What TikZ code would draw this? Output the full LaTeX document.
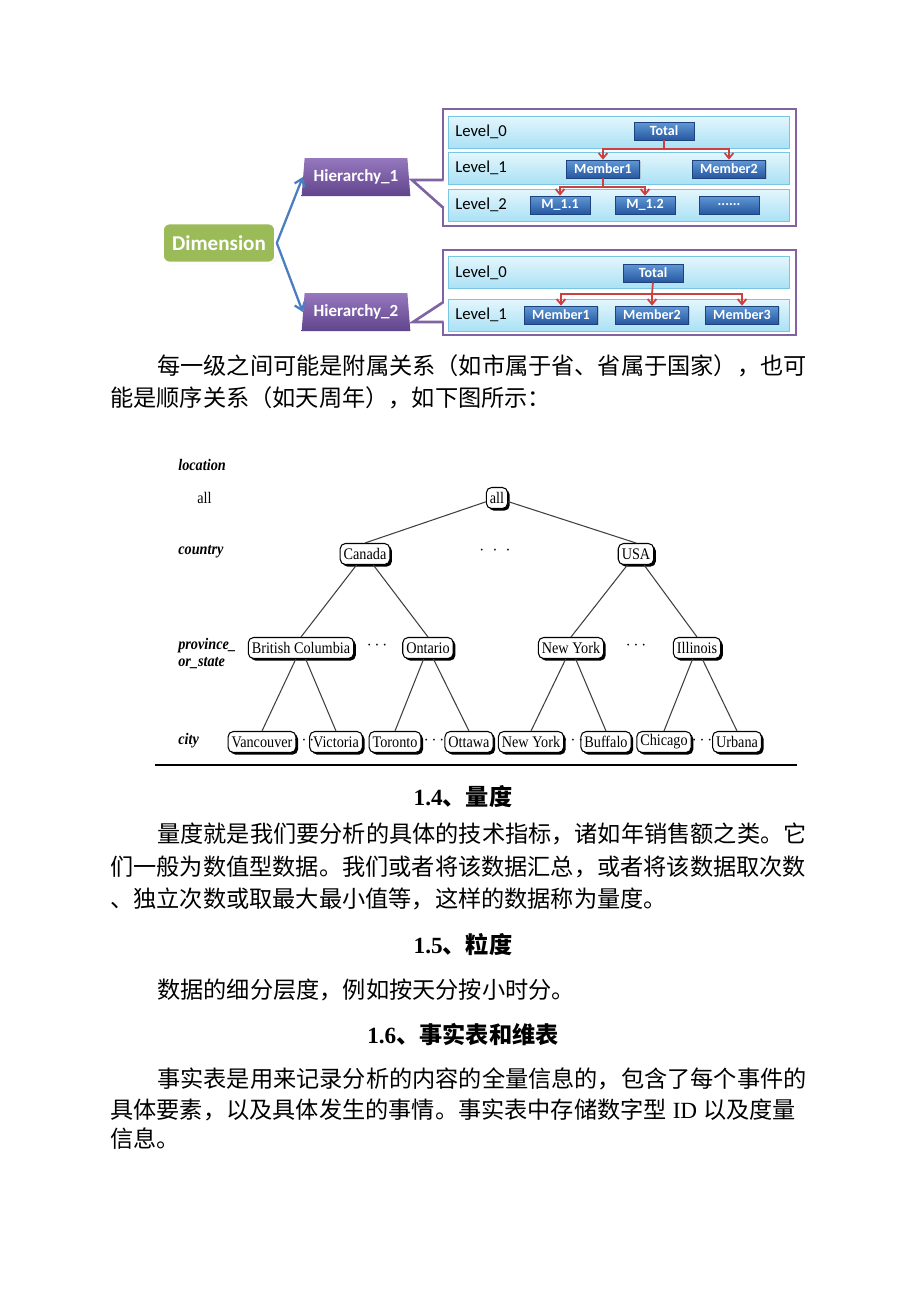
\documentclass[tikz,border=0pt]{standalone}
\usepackage{fontspec}
\setmainfont{Liberation Serif}
\newfontfamily\cjk{Noto Sans CJK SC}
\newfontfamily\cali{Carlito}
\newfontfamily\treefont[FakeStretch=0.88]{Liberation Serif}
\usetikzlibrary{shapes.geometric, arrows.meta, positioning, calc, shadows}
\definecolor{dimgreen}{RGB}{155,187,89}
\definecolor{hiertop}{RGB}{150,120,190}
\definecolor{hierbot}{RGB}{96,68,140}
\definecolor{calloutpurple}{RGB}{128,100,162}
\definecolor{rowtop}{RGB}{228,246,252}
\definecolor{rowbot}{RGB}{170,225,245}
\definecolor{rowedge}{RGB}{120,198,228}
\definecolor{membertop}{RGB}{96,152,214}
\definecolor{memberbot}{RGB}{38,88,160}
\definecolor{memberedge}{RGB}{30,66,126}
\definecolor{linkred}{RGB}{204,64,64}
\definecolor{linkblue}{RGB}{74,126,192}

\begin{document}
\begin{tikzpicture}[
    x=0.02cm, y=-0.02cm,
    dimbox/.style={draw=white, line width=1.5pt, fill=dimgreen, rounded corners=4pt, minimum width=2.26cm, minimum height=0.8cm, text=white, font=\cali\bfseries\fontsize{12}{14}\selectfont, drop shadow={shadow xshift=0.6pt, shadow yshift=-0.6pt, opacity=0.3}},
    hierbox/.style={trapezium, trapezium left angle=82, trapezium right angle=82, trapezium stretches=true, top color=hiertop, bottom color=hierbot, minimum width=2.18cm, minimum height=0.76cm, inner sep=1pt, text=white, font=\cali\bfseries\fontsize{9.7}{11}\selectfont},
    callout/.style={draw=calloutpurple, line width=1.5pt, fill=white, minimum width=7.06cm, inner sep=0pt},
    levelrow/.style={draw=rowedge, top color=rowtop, bottom color=rowbot, minimum width=6.82cm, minimum height=0.64cm, inner sep=0pt},
    levellabel/.style={anchor=west, inner sep=0pt, font=\cali\fontsize{9.5}{11}\selectfont},
    member/.style={draw=memberedge, top color=membertop, bottom color=memberbot, minimum width=1.2cm, minimum height=0.36cm, inner sep=1pt, text=white, font=\cali\bfseries\fontsize{8}{9}\selectfont, drop shadow={shadow xshift=0.8pt, shadow yshift=-0.8pt, opacity=0.3}},
    redlink/.style={linkred, line width=1pt, -{Straight Barb[length=3pt, width=5pt]}},
    bluelink/.style={linkblue, line width=1.3pt, -{Straight Barb[length=4pt, width=6pt]}},
    place/.style={draw, rounded corners=3pt, fill=white, line width=0.6pt, inner xsep=2pt, inner ysep=0pt, minimum height=0.42cm, font=\treefont\fontsize{9.2}{10}\selectfont, drop shadow={shadow xshift=1.2pt, shadow yshift=-1.2pt, fill=black, opacity=1}},
    treeedge/.style={black!75, line width=0.6pt},
    levelname/.style={anchor=west, inner sep=0pt, font=\treefont\bfseries\itshape\fontsize{9.2}{10}\selectfont},
    gap/.style={inner sep=0pt, font=\fontsize{10}{12}\selectfont},
    bodyline/.style={anchor=west, inner sep=0pt, font=\cjk\fontsize{13.2}{16}\selectfont},
    heading/.style={inner sep=0pt, font=\bfseries\fontsize{13.2}{16}\selectfont}
]
    \fill[white] (0,0) rectangle (920,1302);
    \useasboundingbox (0,0) rectangle (920,1302);

    % Dimension and hierarchies
    \node[dimbox] (dim) at (219,243) {Dimension};
    \node[hierbox] (hier1) at (356,177) {Hierarchy\_1};
    \node[hierbox] (hier2) at (356,312) {Hierarchy\_2};
    \draw[bluelink] (dim.east) -- (hier1.west);
    \draw[bluelink] (dim.east) -- (hier2.west);

    % Callout boxes
    \node[callout, minimum height=2.34cm] (box1) at (619.5,167.5) {};
    \node[callout, minimum height=1.7cm] (box2) at (619.5,292.5) {};
    \fill[white] (445,180) -- (412,180) -- (445,208) -- cycle;
    \draw[calloutpurple, line width=1.5pt] (443.5,180) -- (412,180) -- (443.5,208);
    \fill[white] (445,302) -- (413,322) -- (445,322) -- cycle;
    \draw[calloutpurple, line width=1.5pt] (443.5,302) -- (413,322) -- (443.5,322);

    % Hierarchy_1 levels
    \node[levelrow] (row10) at (618.5,132) {};
    \node[levelrow] (row11) at (618.5,168) {};
    \node[levelrow] (row12) at (618.5,205) {};
    \node[levellabel] at (455,132) {Level\_0};
    \node[levellabel] at (455,168) {Level\_1};
    \node[levellabel] at (455,205) {Level\_2};

    \node[member] (total1) at (664,131) {Total};
    \node[member, minimum width=1.46cm] (mem1) at (603,169) {Member1};
    \node[member, minimum width=1.46cm] (mem2) at (729,169) {Member2};
    \node[member] (m11) at (560,205) {M\_1.1};
    \node[member] (m12) at (645,205) {M\_1.2};
    \node[member] (mdots) at (729,205) {......};

    \coordinate (split1) at (664,149);
    \coordinate (split2) at (603,187);
    \draw[linkred, line width=1pt] (total1.south) -- (split1);
    \draw[redlink] (split1) -| (mem1.north);
    \draw[redlink] (split1) -| (mem2.north);
    \draw[linkred, line width=1pt] (mem1.south) -- (split2);
    \draw[redlink] (split2) -| (m11.north);
    \draw[redlink] (split2) -| (m12.north);

    % Hierarchy_2 levels
    \node[levelrow] (row20) at (618.5,272.5) {};
    \node[levelrow] (row21) at (618.5,315) {};
    \node[levellabel] at (455,272.5) {Level\_0};
    \node[levellabel] at (455,315) {Level\_1};

    \node[member] (total2) at (653,273) {Total};
    \node[member, minimum width=1.46cm] (mem21) at (561,315) {Member1};
    \node[member, minimum width=1.46cm] (mem22) at (652,315) {Member2};
    \node[member, minimum width=1.46cm] (mem23) at (742,315) {Member3};

    \coordinate (split3) at (652,294);
    \draw[linkred, line width=1pt] (total2.south) -- (split3);
    \draw[redlink] (split3) -| (mem21.north);
    \draw[redlink] (split3) -- (mem22.north);
    \draw[redlink] (split3) -| (mem23.north);

    % Paragraph
    \node[bodyline] (p1a) at (157,366) {每一级之间可能是附属关系（如市属于省、省属于国家），也可};
    \node[bodyline] (p1b) at (110,398) {能是顺序关系（如天周年），如下图所示：};

    % Location tree labels
    \node[levelname] (lloc) at (178,465) {location};
    \node[anchor=west, inner sep=0pt, font=\treefont\fontsize{9.2}{10}\selectfont] (lall) at (197,498) {all};
    \node[levelname] (lcountry) at (178,552) {country};
    \node[levelname] (lprov) at (178,646) {province\_};
    \node[levelname] (lstate) at (178,663) {or\_state};
    \node[levelname] (lcity) at (178,741) {city};

    % Location tree
    \node[place] (all) at (497,498) {all};
    \node[place] (canada) at (365,554) {Canada};
    \node[place] (usa) at (636,554) {USA};
    \node[gap] (dots1) at (495,551) {$\cdot\ \cdot\ \cdot$};

    \node[place] (bc) at (301,648) {British Columbia};
    \node[place] (ontario) at (428,648) {Ontario};
    \node[place] (newyork) at (571,648) {New York};
    \node[place] (illinois) at (697,648) {Illinois};
    \node[gap] (dots2) at (377,646) {$\cdots$};
    \node[gap] (dots3) at (636,646) {$\cdots$};

    \node[place] (vancouver) at (262,742) {Vancouver};
    \node[place] (victoria) at (336,742) {Victoria};
    \node[place] (toronto) at (395,742) {Toronto};
    \node[place] (ottawa) at (469,742) {Ottawa};
    \node[place] (nycity) at (531,742) {New York};
    \node[place] (buffalo) at (606,742) {Buffalo};
    \node[place] (chicago) at (664,742) {Chicago};
    \node[place] (urbana) at (737,742) {Urbana};
    \node[gap] (dots4) at (304,741) {$\cdots$};
    \node[gap] (dots5) at (434,741) {$\cdots$};
    \node[gap] (dots6) at (573,741) {$\cdots$};
    \node[gap] (dots7) at (702,741) {$\cdots$};

    \draw[treeedge] (all) -- (canada.north);
    \draw[treeedge] (all) -- (usa.north);
    \draw[treeedge] (canada) -- (bc.north);
    \draw[treeedge] (canada) -- (ontario.north);
    \draw[treeedge] (usa) -- (newyork.north);
    \draw[treeedge] (usa) -- (illinois.north);
    \draw[treeedge] (bc) -- (vancouver.north);
    \draw[treeedge] (bc) -- (victoria.north);
    \draw[treeedge] (ontario) -- (toronto.north);
    \draw[treeedge] (ontario) -- (ottawa.north);
    \draw[treeedge] (newyork) -- (nycity.north);
    \draw[treeedge] (newyork) -- (buffalo.north);
    \draw[treeedge] (illinois) -- (chicago.north);
    \draw[treeedge] (illinois) -- (urbana.north);

    \draw[line width=0.8pt] (155,765) -- (797,765);

    % Sections
    \node[heading] (h14) at (463,797) {1.4{\cjk 、量度}};
    \node[bodyline] (p2a) at (157,834) {量度就是我们要分析的具体的技术指标，诸如年销售额之类。它};
    \node[bodyline] (p2b) at (110,867) {们一般为数值型数据。我们或者将该数据汇总，或者将该数据取次数};
    \node[bodyline] (p2c) at (110,899) {、独立次数或取最大最小值等，这样的数据称为量度。};
    \node[heading] (h15) at (463,945) {1.5{\cjk 、粒度}};
    \node[bodyline] (p3a) at (157,990) {数据的细分层度，例如按天分按小时分。};
    \node[heading] (h16) at (463,1035) {1.6{\cjk 、事实表和维表}};
    \node[bodyline] (p4a) at (157,1079) {事实表是用来记录分析的内容的全量信息的，包含了每个事件的};
    \node[bodyline] (p4b) at (110,1110) {具体要素，以及具体发生的事情。事实表中存储数字型{\rmfamily\ ID\ }以及度量};
    \node[bodyline] (p4c) at (110,1139) {信息。};
\end{tikzpicture}
\end{document}
